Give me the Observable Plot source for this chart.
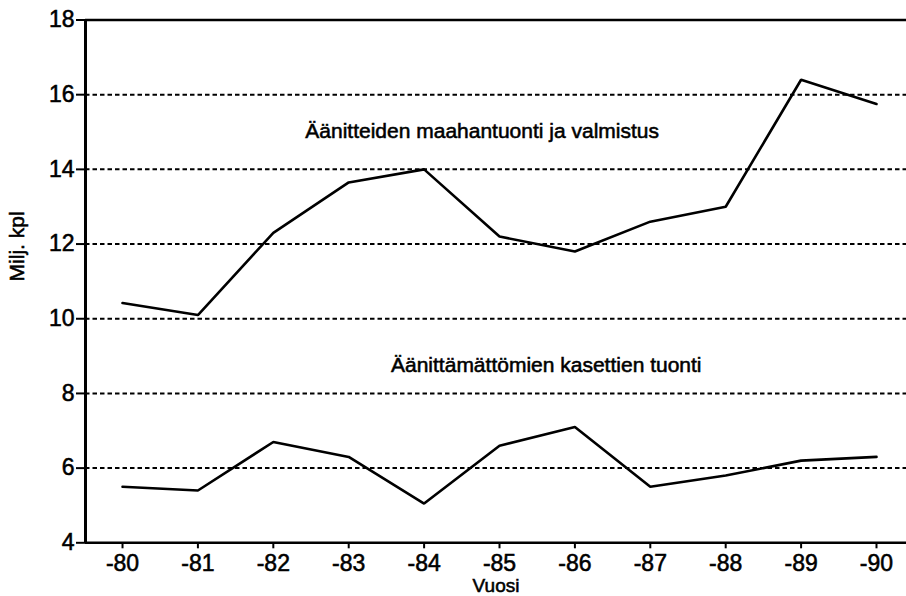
<!DOCTYPE html>
<html>
<head>
<meta charset="utf-8">
<script src="https://cdn.jsdelivr.net/npm/d3@7"></script>
<script src="https://cdn.jsdelivr.net/npm/@observablehq/plot@0.6"></script>
<style>
  html, body { margin: 0; padding: 0; background: #fff; }
  #chart { width: 906px; height: 596px; }
  #chart svg text { stroke: #000; stroke-width: 0.55px; }
</style>
</head>
<body>
<div id="chart"></div>
<script>
// ---- data ----
const years = [1980, 1981, 1982, 1983, 1984, 1985, 1986, 1987, 1988, 1989, 1990];
const xLabels = ["-80", "-81", "-82", "-83", "-84", "-85", "-86", "-87", "-88", "-89", "-90"];
const recordings = [10.42, 10.1, 12.3, 13.65, 14.0, 12.2, 11.8, 12.6, 13.0, 16.4, 15.75];
const blankTapes = [5.5, 5.4, 6.7, 6.3, 5.05, 6.6, 7.1, 5.5, 5.8, 6.2, 6.3];
const seriesNames = ["Äänitteiden maahantuonti ja valmistus", "Äänittämättömien kasettien tuonti"];
const seriesLabelX = [1984.77, 1985.62];
const seriesLabelY = [15.03, 8.75];
const yTicks = [4, 6, 8, 10, 12, 14, 16, 18];
const gridValues = [6, 8, 10, 12, 14, 16];
const yLabel = "Milj. kpl";
const xLabel = "Vuosi";

// ---- build table ----
const rows = [];
years.forEach((y, i) => rows.push({year: y, value: recordings[i], series: seriesNames[0]}));
years.forEach((y, i) => rows.push({year: y, value: blankTapes[i], series: seriesNames[1]}));
const labels = seriesNames.map((s, i) => ({text: s, x: seriesLabelX[i], y: seriesLabelY[i]}));

const xDomain = [1979.509, 1990.398];
const yDomain = [4, 18];

const chart = Plot.plot({
  width: 906,
  height: 596,
  marginLeft: 85,
  marginRight: 0,
  marginTop: 19.5,
  marginBottom: 53.7,
  style: {fontFamily: "'Liberation Sans', Arial, Helvetica, sans-serif", background: "#fff", color: "#000"},
  x: {domain: xDomain},
  y: {domain: yDomain},
  marks: [
    Plot.ruleY(gridValues, {stroke: "#000", strokeWidth: 2, strokeDasharray: "4.5,3"}),
    Plot.ruleY([yDomain[0], yDomain[1]], {stroke: "#000", strokeWidth: 2.5}),
    Plot.ruleX([xDomain[0]], {stroke: "#000", strokeWidth: 3}),
    Plot.line(rows, {x: "year", y: "value", z: "series", stroke: "#000", strokeWidth: 2.6, strokeLinejoin: "miter"}),
    Plot.text(labels, {x: "x", y: "y", text: "text", fontSize: 21, fill: "#000"}),
    Plot.axisX({ticks: years, tickFormat: d => xLabels[years.indexOf(d)], tickSize: 6, tickPadding: 6, fontSize: 23, strokeWidth: 2, label: null}),
    Plot.axisY({ticks: yTicks, tickSize: 9, tickPadding: 2, fontSize: 23, strokeWidth: 2, label: null}),
    Plot.text([xLabel], {frameAnchor: "bottom", lineAnchor: "middle", dy: 43, fontSize: 19, fill: "#000"}),
    Plot.text([yLabel], {frameAnchor: "left", rotate: -90, dx: -68, fontSize: 21, fill: "#000"})
  ]
});
document.getElementById("chart").appendChild(chart);
</script>
</body>
</html>
